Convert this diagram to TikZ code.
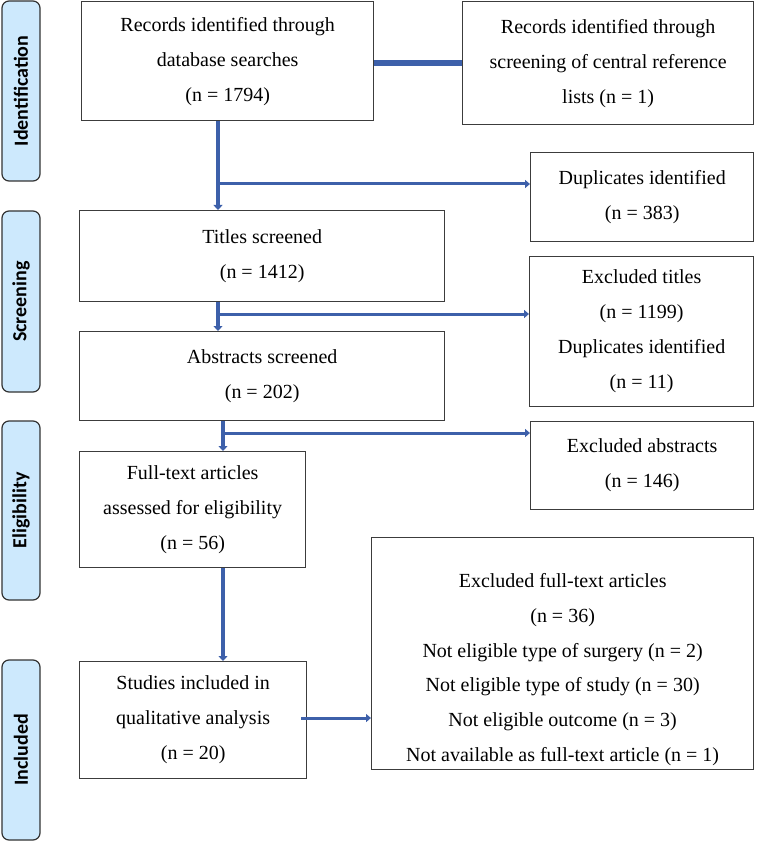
\documentclass[tikz,border=0pt]{standalone}
\usepackage{fontspec}
\setmainfont{Liberation Serif}
\newfontfamily\sidefont{Carlito}
\usetikzlibrary{arrows.meta,calc}
\definecolor{arrowblue}{RGB}{61,96,170}
\definecolor{sidefill}{RGB}{205,233,253}
\definecolor{boxline}{RGB}{60,60,60}
\begin{document}
\begin{tikzpicture}[x=1pt,y=-1pt,
  box/.style={draw=boxline,line width=1.3pt,fill=white,anchor=north west,inner sep=0pt,align=center,font=\fontsize{20}{35}\selectfont},
  txt/.style={inner sep=0pt,align=center,font=\fontsize{20}{34.7}\selectfont},
  side/.style={draw=black!80,line width=1.2pt,fill=sidefill,rounded corners=7pt,inner sep=0pt,rotate=90,minimum height=38pt,font=\sidefont\bfseries\fontsize{20}{22}\selectfont},
  flowv/.style={draw=arrowblue,line width=4pt,-{Triangle[length=5pt,width=9pt]}},
  flowh/.style={draw=arrowblue,line width=3pt,-{Triangle[length=5pt,width=8pt]}},
  bar/.style={draw=arrowblue,line width=6pt}]
\useasboundingbox (0,0) rectangle (756,842);
\fill[white] (0,0) rectangle (756,842);

% side labels
\node[side,minimum width=180pt] (sid1) at (21,91) {Identification};
\node[side,minimum width=181pt] (sid2) at (21,301.5) {Screening};
\node[side,minimum width=179pt] (sid3) at (21,510.5) {Eligibility};
\node[side,minimum width=180pt] (sid4) at (21,750) {Included};

% boxes
\node[box,minimum width=292pt,minimum height=119pt] (rec) at (81,1) {Records identified through\\database searches\\(n = 1794)};
\node[box,minimum width=291pt,minimum height=123pt] (cen) at (462,1) {Records identified through\\screening of central reference\\lists (n = 1)};
\node[box,minimum width=223pt,minimum height=89pt] (dup) at (530,152) {Duplicates identified\\(n = 383)};
\node[box,minimum width=365pt,minimum height=91pt] (tit) at (79,210) {Titles screened\\(n = 1412)};
\node[box,minimum width=365pt,minimum height=89pt] (abs) at (79,331) {Abstracts screened\\(n = 202)};
\node[box,minimum width=224pt,minimum height=150pt] (extit) at (529,256) {Excluded titles\\(n = 1199)\\Duplicates identified\\(n = 11)};
\node[box,minimum width=223pt,minimum height=88pt] (exabs) at (530,421) {Excluded abstracts\\(n = 146)};
\node[box,minimum width=226pt,minimum height=116pt] (ft) at (79,451) {Full-text articles\\assessed for eligibility\\(n = 56)};
\node[box,minimum width=227pt,minimum height=117pt] (stud) at (79,661) {Studies included in\\qualitative analysis\\(n = 20)};
\node[box,minimum width=382pt,minimum height=232pt] (exft) at (371,537) {};
\node[txt] (exfttxt) at ($(exft.center)+(0,16)$) {Excluded full-text articles\\(n = 36)\\Not eligible type of surgery (n = 2)\\Not eligible type of study (n = 30)\\Not eligible outcome (n = 3)\\Not available as full-text article (n = 1)};

% connector guides
\coordinate (v1) at (218,0);
\coordinate (v3) at (223,0);
\coordinate (h1) at (0,184);
\coordinate (h2) at (0,314);
\coordinate (h3) at (0,433);
\coordinate (h5) at (0,718);

% connectors
\draw[bar] (rec.east |- cen.west) -- (cen.west);
\draw[flowv] (rec.south -| v1) -- (tit.north -| v1);
\draw[flowh] (v1 |- h1) -- (dup.west |- h1);
\draw[flowv] (tit.south -| v1) -- (abs.north -| v1);
\draw[flowh] (v1 |- h2) -- (extit.west |- h2);
\draw[flowv] (abs.south -| v3) -- (ft.north -| v3);
\draw[flowh] (v3 |- h3) -- (exabs.west |- h3);
\draw[flowv] (ft.south -| v3) -- (stud.north -| v3);
\draw[flowh] ($(stud.east |- h5)+(-6,0)$) -- (exft.west |- h5);
\end{tikzpicture}
\end{document}
